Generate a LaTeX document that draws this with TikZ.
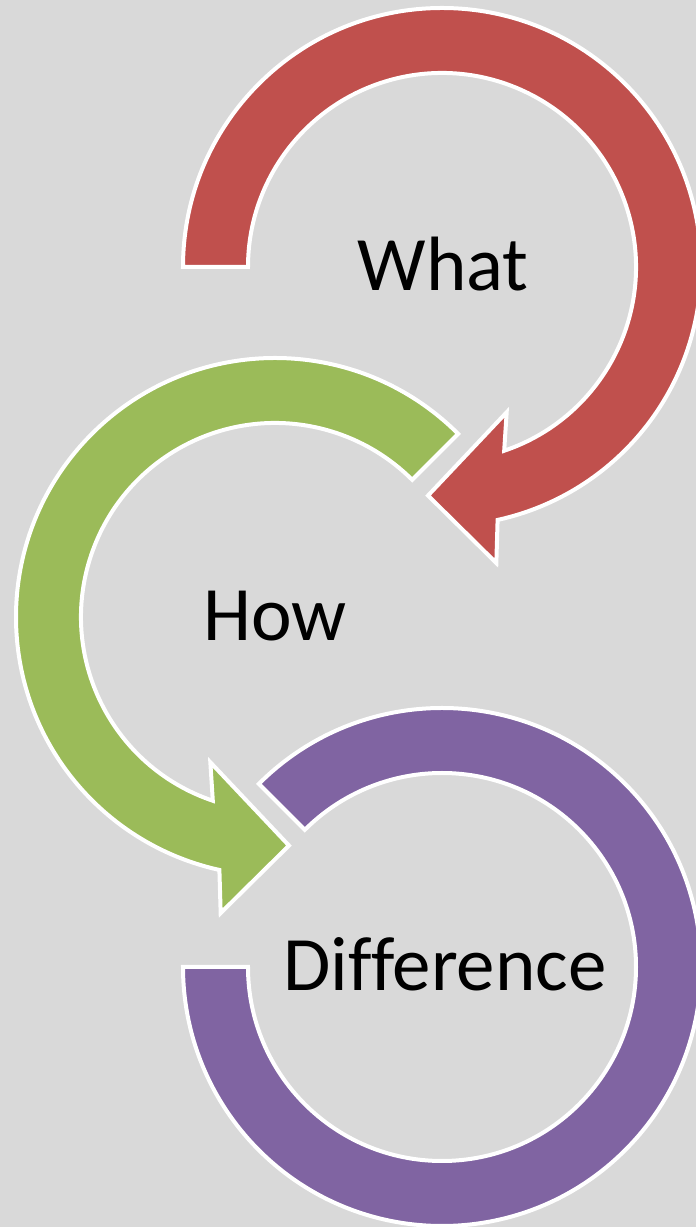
\documentclass[tikz,border=0pt]{standalone}
\usepackage{fontspec}
\setmainfont{Carlito}[Ligatures=NoCommon]
\usetikzlibrary{positioning}
\usetikzlibrary{calc}
\definecolor{bgGray}{HTML}{D9D9D9}
\definecolor{whatRed}{HTML}{C0504D}
\definecolor{howGreen}{HTML}{9BBB59}
\definecolor{diffPurple}{HTML}{8064A2}
\tikzset{ring/.style={draw=white,line width=4pt,line join=miter}}
\tikzset{lbl/.style={anchor=base,inner sep=0pt,font=\fontsize{77}{82}\selectfont}}

\begin{document}
\begin{tikzpicture}[x=1pt,y=1pt]
\fill[bgGray] (0,0) rectangle (696,1227);
\useasboundingbox (0,0) rectangle (696,1227);

\coordinate (cR) at (442,960);
\coordinate (cG) at (275,610);
\coordinate (cP) at (442,260);

% red arrow
\begin{scope}[shift={(cR)}]
\filldraw[ring,fill=whatRed] (180:259pt) arc[start angle=180,end angle=-77.6,radius=259pt]
  -- (-79.6:301pt) -- (-93.5:229pt) -- (-66:159pt) -- (-71.3:194pt)
  arc[start angle=-71.3,end angle=180,radius=194pt] -- cycle;
\end{scope}

% green arrow
\begin{scope}[shift={(cG)}]
\filldraw[ring,fill=howGreen] (45:259pt) arc[start angle=45,end angle=257.6,radius=259pt]
  -- (259.6:301pt) -- (273.5:229pt) -- (246:159pt) -- (251.3:194pt)
  arc[start angle=251.3,end angle=45,radius=194pt] -- cycle;
\end{scope}

% purple ring
\begin{scope}[shift={(cP)}]
\filldraw[ring,fill=diffPurple] (135:259pt) arc[start angle=135,end angle=-180,radius=259pt]
  -- (-180:194pt) arc[start angle=-180,end angle=135,radius=194pt] -- cycle;
\end{scope}

\node[lbl] (what) at ($(cR)+(1,-24)$) {What};
\node[lbl] (how) at ($(cG)+(0,-24)$) {How};
\node[lbl] (diff) at ($(cP)+(3,-24)$) {Difference};
\end{tikzpicture}
\end{document}
